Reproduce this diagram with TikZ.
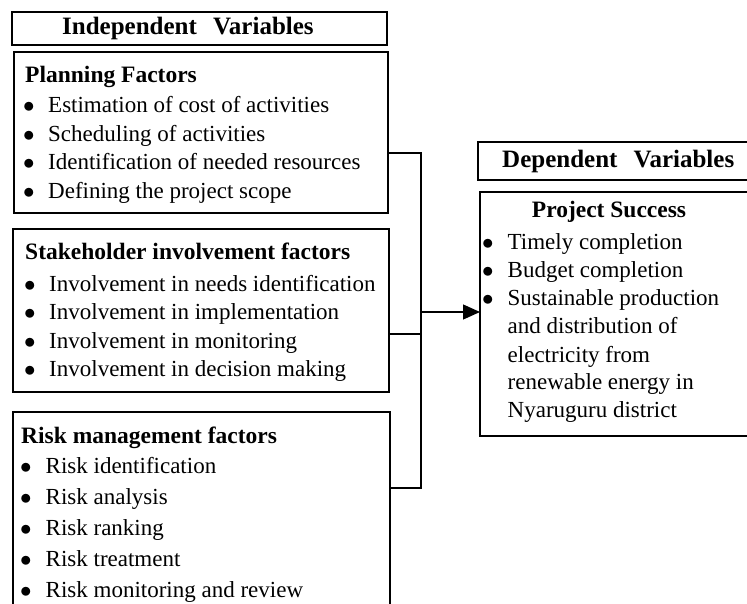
\documentclass[tikz,border=0pt]{standalone}
\usepackage{fix-cm}
\usepackage{fontspec}
\setmainfont{Liberation Serif}
\usetikzlibrary{arrows.meta}
% bullet set in a box of the given width, text follows at its right edge
\newcommand{\bul}[1][24pt]{\makebox[#1][l]{$\bullet$}}
\begin{document}
\begin{tikzpicture}[x=1pt,y=-1pt,
  box/.style={draw, line width=1.4pt, inner sep=0pt, outer sep=0pt, anchor=north west},
  heading/.style={anchor=base west, inner sep=0pt, font=\fontsize{25}{30}\selectfont\bfseries},
  title/.style={anchor=base west, inner sep=0pt, font=\fontsize{23.5}{28}\selectfont\bfseries},
  body/.style={anchor=base west, inner sep=0pt, font=\fontsize{23}{28.5}\selectfont},
  link/.style={line width=1.3pt},
]
\useasboundingbox (0,0) rectangle (747,604);
\clip (0,0) rectangle (747,604);

% frames
\node[box, minimum width=375pt, minimum height=33pt]  (indep)   at (12,12)  {};
\node[box, minimum width=374pt, minimum height=161pt] (planning) at (14,52) {};
\node[box, minimum width=376pt, minimum height=163pt] (stake)   at (13,229) {};
\node[box, minimum width=377pt, minimum height=230pt] (risk)    at (13,412) {};
\node[box, minimum width=290pt, minimum height=38pt]  (dep)     at (478,142) {};
\node[box, minimum width=290pt, minimum height=244pt] (success) at (480,192) {};

% headings
\node[heading] (indeptxt) at (62,35) {Independent\hspace{0.4em} Variables};
\node[heading] (deptxt) at (502,168) {Dependent\hspace{0.4em} Variables};

% planning factors
\node[title] (plantitle) at (25,83) {Planning Factors};
\node[body] (planlist) at (23,113) {\begin{tabular}[t]{@{}l@{}}
\bul[25pt]Estimation of cost of activities\\
\bul[25pt]Scheduling of activities\\
\bul[25pt]Identification of needed resources\\
\bul[25pt]Defining the project scope
\end{tabular}};

% stakeholder involvement factors
\node[title] (staketitle) at (25,259) {Stakeholder involvement factors};
\node[body] (stakelist) at (24,291) {\begin{tabular}[t]{@{}l@{}}
\bul[25pt]Involvement in needs identification\\
\bul[25pt]Involvement in implementation\\
\bul[25pt]Involvement in monitoring\\
\bul[25pt]Involvement in decision making
\end{tabular}};

% risk management factors
\node[title] (risktitle) at (21,443) {Risk management factors};
\node[body, font=\fontsize{23}{31}\selectfont] (risklist) at (20,473) {\begin{tabular}[t]{@{}l@{}}
\bul[25.5pt]Risk identification\\
\bul[25.5pt]Risk analysis\\
\bul[25.5pt]Risk ranking\\
\bul[25.5pt]Risk treatment\\
\bul[25.5pt]Risk monitoring and review
\end{tabular}};

% project success
\node[title, anchor=base] (succtitle) at (609,218) {Project Success};
\node[body, font=\fontsize{23}{28}\selectfont] (succlist) at (482,250) {\begin{tabular}[t]{@{}l@{}}
\bul[25.5pt]Timely completion\\
\bul[25.5pt]Budget completion\\
\bul[25.5pt]Sustainable production\\
\hspace{25.5pt}and distribution of\\
\hspace{25.5pt}electricity from\\
\hspace{25.5pt}renewable energy in\\
\hspace{25.5pt}Nyaruguru district
\end{tabular}};

% connectors
\coordinate (j1) at (421,153);
\coordinate (j2) at (421,334);
\coordinate (j3) at (421,488);
\coordinate (ja) at (421,312);
\draw[link] (planning.east |- j1) -- (j1) -- (j3) -- (risk.east |- j3);
\draw[link] (stake.east |- j2) -- (j2);
\draw[link, -{Triangle[length=17pt,width=15pt]}] (ja) -- (success.west |- ja);
\end{tikzpicture}
\end{document}
